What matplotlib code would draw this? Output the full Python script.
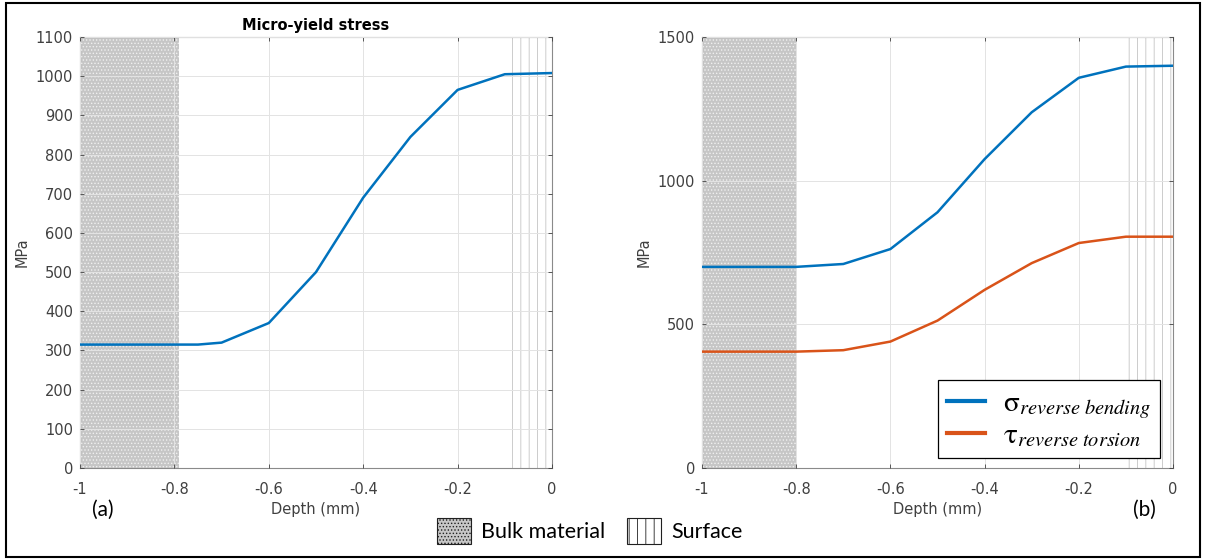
import matplotlib.pyplot as plt
from matplotlib.patches import Patch, Rectangle

plt.rcParams['font.family'] = ['DejaVu Sans']
plt.rcParams['mathtext.fontset'] = 'stix'
plt.rcParams['hatch.linewidth'] = 0.6

# datos panel (a): tension de micro-fluencia
depth_a = [-1.0, -0.9, -0.8, -0.75, -0.7, -0.6, -0.5, -0.4, -0.3, -0.2, -0.1, 0.0]
yield_a = [315, 315, 315, 315, 320, 370, 500, 690, 845, 965, 1005, 1008]

# datos panel (b)
depth_b = [-1.0, -0.9, -0.8, -0.7, -0.6, -0.5, -0.4, -0.3, -0.2, -0.1, 0.0]
bending_b = [700, 700, 700, 710, 762, 890, 1075, 1238, 1358, 1397, 1400]
torsion_b = [405, 405, 405, 410, 440, 513, 620, 713, 783, 805, 805]

# zonas sombreadas
bulk_zone_a = (-1.0, -0.79)
bulk_zone_b = (-1.0, -0.80)
surface_zone = (-0.1, 0.0)

xticks = [-1, -0.8, -0.6, -0.4, -0.2, 0]
xticklabels = ['-1', '-0.8', '-0.6', '-0.4', '-0.2', '0']

blue = '#0072BD'
orange = '#D95319'
gray_txt = '#404040'
bulk_face = '#c6c6c6'

W, H = 1205, 559
fig = plt.figure(figsize=(W / 100, H / 100), dpi=100)
ax1 = fig.add_axes([80 / W, 1 - 468 / H, 472 / W, 431 / H])
ax2 = fig.add_axes([702 / W, 1 - 468 / H, 471 / W, 431 / H])


def style(ax, bulk):
    ax.axvspan(*bulk, facecolor=bulk_face, edgecolor='#f0f0f0', hatch='.....', lw=0, zorder=0)
    ax.axvspan(*surface_zone, facecolor='white', edgecolor='#c4c4c4', hatch='||', lw=0, zorder=0)
    ax.set_xlim(-1, 0)
    ax.set_xticks(xticks)
    ax.set_xticklabels(xticklabels)
    ax.grid(True, color='#e3e3e3', lw=0.7, zorder=1)
    ax.set_axisbelow(False)
    ax.tick_params(axis='both', direction='in', top=True, right=True, labelsize=10.5,
                   colors=gray_txt, length=3, width=0.6)
    ax.tick_params(axis='x', pad=10)
    ax.tick_params(axis='y', pad=5)
    for s in ax.spines.values():
        s.set_color('#8a8a8a')
        s.set_linewidth(0.8)
    ax.set_xlabel('Depth (mm)', fontsize=10.5, color=gray_txt, labelpad=4)
    ax.set_ylabel('MPa', fontsize=10.5, color=gray_txt, labelpad=4.5)


style(ax1, bulk_zone_a)
ax1.plot(depth_a, yield_a, color=blue, lw=1.8, zorder=3)
ax1.set_ylim(0, 1100)
ax1.set_yticks(range(0, 1101, 100))
ax1.set_title('Micro-yield stress', fontsize=10.5, fontweight='bold', pad=5)

style(ax2, bulk_zone_b)
ax2.plot(depth_b, bending_b, color=blue, lw=1.8, zorder=3,
         label=r'$\mathrm{\sigma}_{reverse\ bending}$')
ax2.plot(depth_b, torsion_b, color=orange, lw=1.8, zorder=3,
         label=r'$\mathrm{\tau}_{reverse\ torsion}$')
ax2.set_ylim(0, 1500)
ax2.set_yticks([0, 500, 1000, 1500])
leg = ax2.legend(loc='lower right', bbox_to_anchor=(0.972, 0.023), fontsize=21,
                 frameon=True, fancybox=False, edgecolor='black', framealpha=1,
                 handlelength=1.3, handletextpad=0.6, borderpad=0.3, labelspacing=0.02,
                 borderaxespad=0)
leg.get_frame().set_linewidth(0.9)
for ln in leg.get_lines():
    ln.set_linewidth(3)

fig.text(92 / W, 1 - 510 / H, '(a)', fontsize=15, family='Lato', va='center')
fig.text(1133 / W, 1 - 510 / H, '(b)', fontsize=15, family='Lato', va='center')

handles = [Patch(facecolor=bulk_face, edgecolor='#202020', hatch='.....', lw=0.8, label='Bulk material'),
           Patch(facecolor='white', edgecolor='#202020', hatch='||', lw=0.8, label='Surface')]
fig.legend(handles=handles, loc='center', bbox_to_anchor=(590 / W, 1 - 531 / H), ncol=2,
           frameon=False, prop={'family': 'Lato', 'size': 15.5},
           handlelength=1.55, handleheight=1.45, columnspacing=1.0, handletextpad=0.5)

fig.patches.append(Rectangle((0.005, 0.004), 0.991, 0.99, transform=fig.transFigure,
                             fill=False, edgecolor='black', lw=1.5))

fig.savefig('out.png', dpi=100)
